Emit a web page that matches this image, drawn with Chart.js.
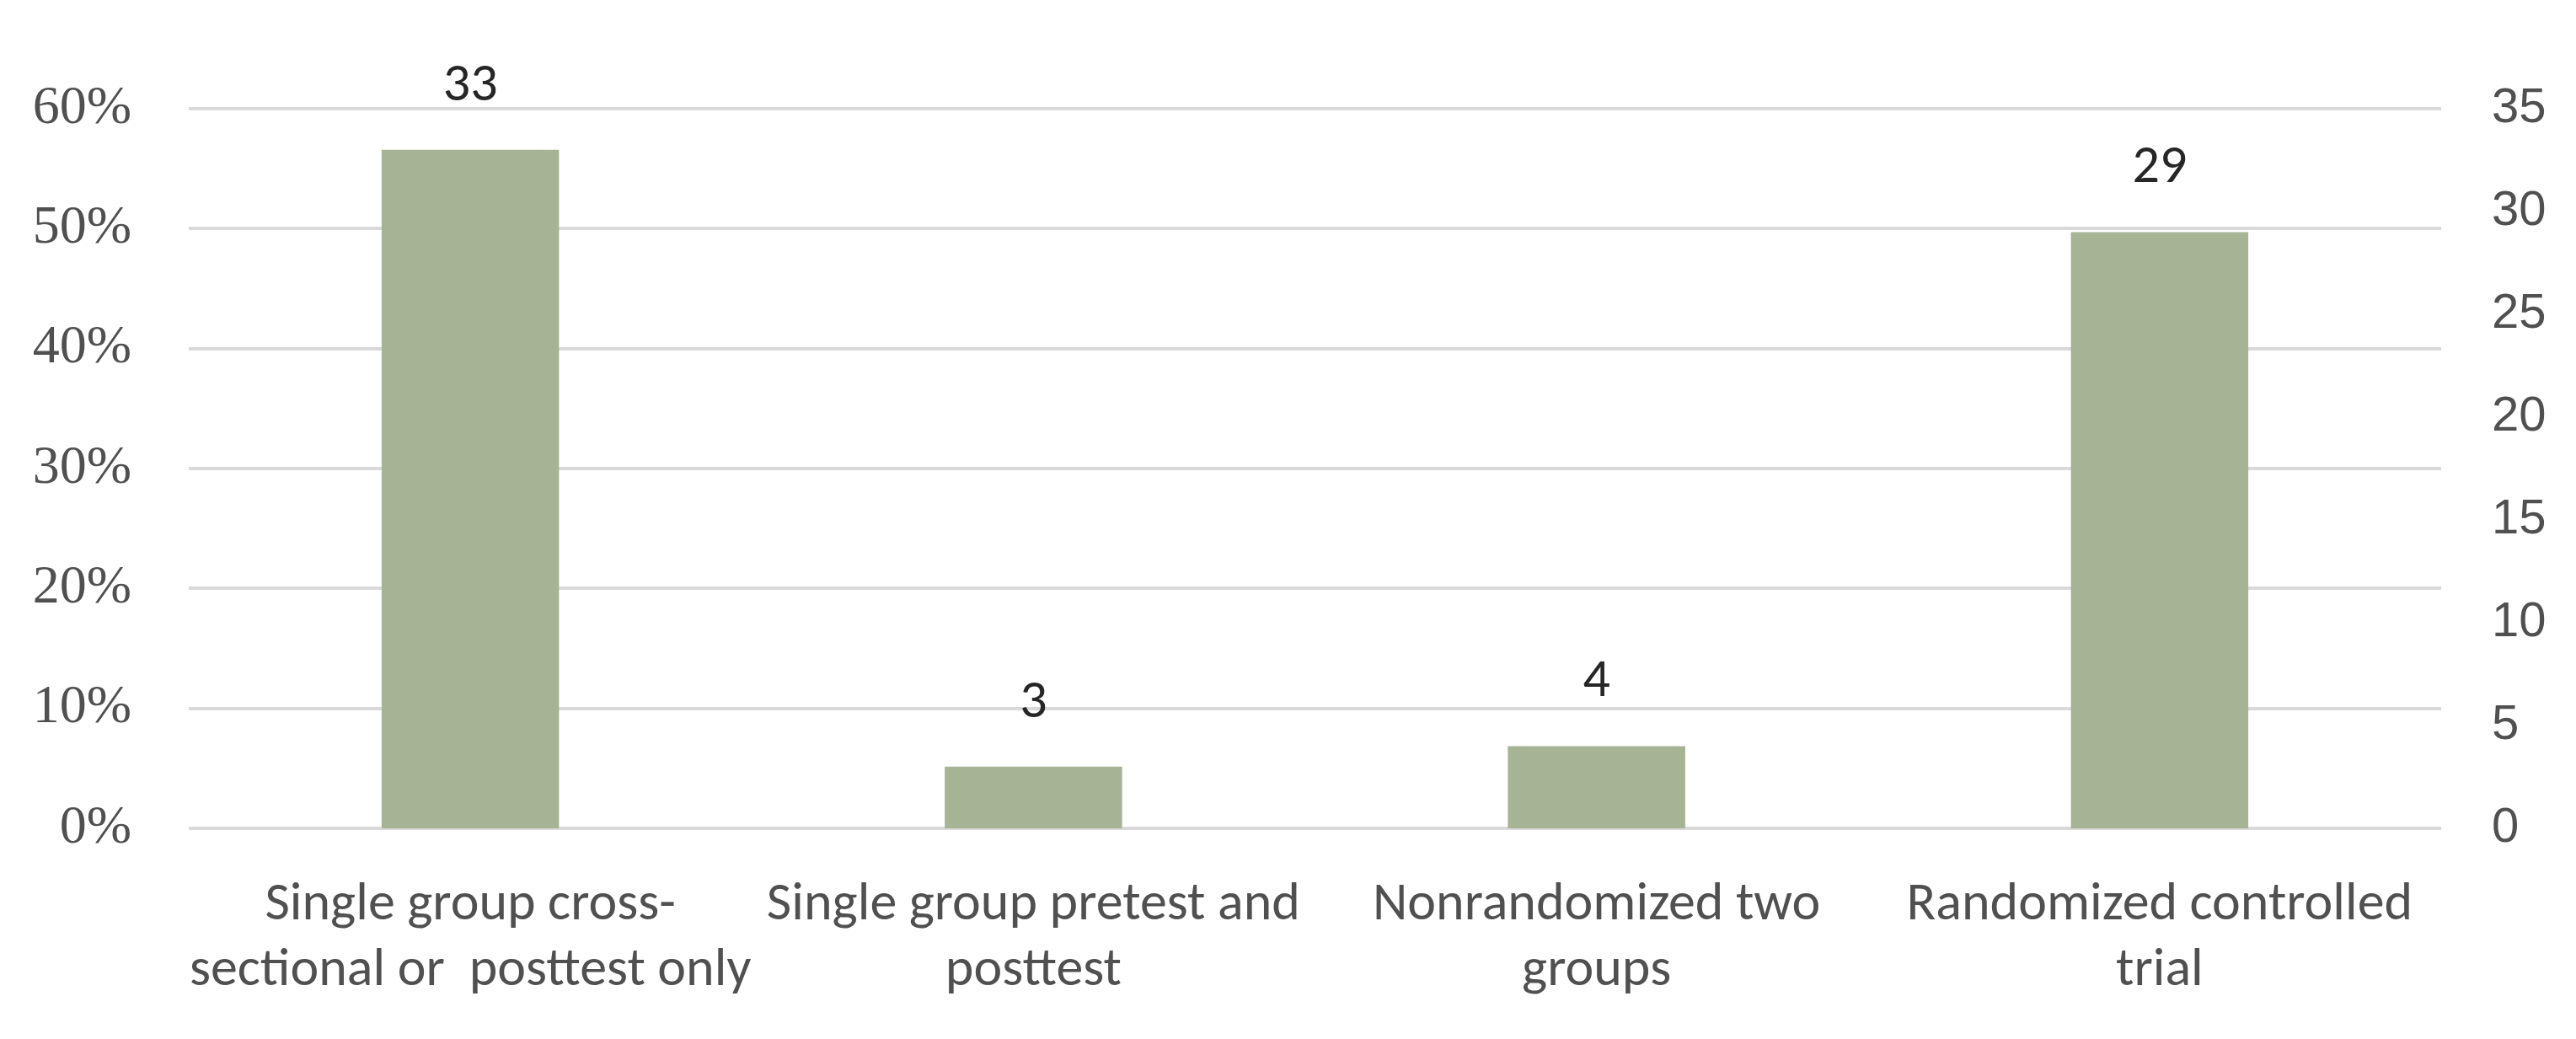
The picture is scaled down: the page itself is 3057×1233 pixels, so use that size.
<!DOCTYPE html>
<html>
<head>
<meta charset="utf-8">
<script src="https://cdn.jsdelivr.net/npm/chart.js@4/dist/chart.umd.min.js"></script>
<style>
  html, body { margin: 0; padding: 0; background: #ffffff; }
  #wrap { width: 3057px; height: 1233px; }
</style>
</head>
<body>
<div id="wrap"><canvas id="studyChart" width="3057" height="1233"></canvas></div>
<script>
const categories = [
  ["Single group cross-", "sectional or  posttest only"],
  ["Single group pretest and", "posttest"],
  ["Nonrandomized two", "groups"],
  ["Randomized controlled", "trial"],
];
const studyCounts = [33, 3, 4, 29];
const percentTicks = [0, 0.1, 0.2, 0.3, 0.4, 0.5, 0.6];
const countTicks = [0, 5, 10, 15, 20, 25, 30, 35];

const BAR_COLOR = "#a6b394";
const GRID_COLOR = "#d9d9d9";
const TICK_COLOR = "#505050";
const LABEL_COLOR = "#262626";
const SANS = "Carlito, 'Liberation Sans Narrow', 'Open Sans', sans-serif";

// small stand-in for the datalabels plugin: value above each bar
const barValues = {
  id: "barValues",
  afterDatasetsDraw(chart) {
    const { ctx } = chart;
    const meta = chart.getDatasetMeta(0);
    ctx.save();
    ctx.fillStyle = LABEL_COLOR;
    ctx.font = "64px " + SANS;
    ctx.textAlign = "center";
    ctx.textBaseline = "alphabetic";
    meta.data.forEach((bar, i) => {
      ctx.fillText(String(studyCounts[i]), bar.x, bar.y - 59);
    });
    ctx.restore();
  },
};

new Chart(document.getElementById("studyChart"), {
  type: "bar",
  data: {
    labels: categories,
    datasets: [
      {
        label: "Studies",
        data: studyCounts,
        yAxisID: "count",
        backgroundColor: BAR_COLOR,
        borderWidth: 0,
        categoryPercentage: 1,
        barPercentage: 0.315,
      },
    ],
  },
  options: {
    responsive: false,
    animation: false,
    layout: { padding: { top: 129, left: 0, right: 0, bottom: 0 } },
    plugins: {
      legend: { display: false },
      tooltip: { enabled: false },
    },
    scales: {
      x: {
        grid: { display: false },
        border: { display: false },
        ticks: {
          autoSkip: false,
          maxRotation: 0,
          color: TICK_COLOR,
          padding: 45,
          font: { family: SANS, size: 64, lineHeight: 1.22 },
        },
        afterFit: (scale) => { scale.height = 250; },
      },
      pct: {
        position: "left",
        min: 0,
        max: 0.6,
        afterBuildTicks: (scale) => {
          scale.ticks = percentTicks.map((v) => ({ value: v }));
        },
        grid: { color: GRID_COLOR, lineWidth: 4, drawTicks: false },
        border: { display: false },
        ticks: {
          color: TICK_COLOR,
          padding: 68,
          font: { family: "'Liberation Serif', 'DejaVu Serif', serif", size: 64 },
          callback: (value) => Math.round(value * 100) + "%",
        },
        afterFit: (scale) => { scale.width = 224; },
      },
      count: {
        position: "right",
        min: 0,
        max: 35,
        afterBuildTicks: (scale) => {
          scale.ticks = countTicks.map((v) => ({ value: v }));
        },
        grid: { display: false, drawTicks: false },
        border: { display: false },
        ticks: {
          color: TICK_COLOR,
          padding: 60,
          font: { family: "'Liberation Sans', Arial, sans-serif", size: 58 },
        },
        afterFit: (scale) => { scale.width = 160; },
      },
    },
  },
  plugins: [barValues],
});
</script>
</body>
</html>
